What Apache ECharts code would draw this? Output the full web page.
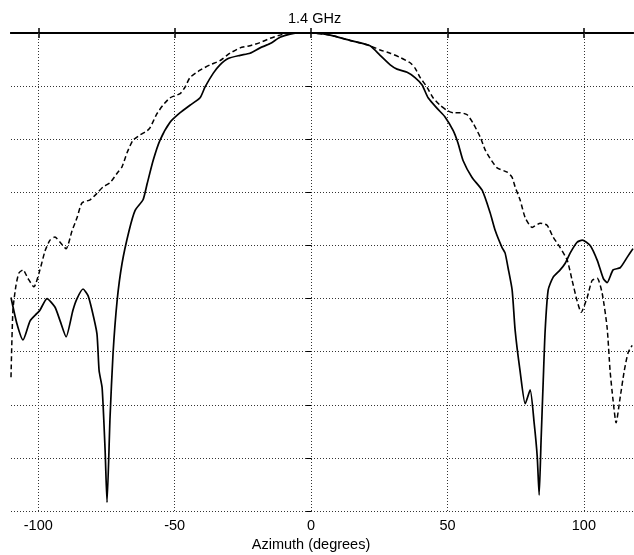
<!DOCTYPE html>
<html>
<head>
<meta charset="utf-8">
<script src="https://cdn.jsdelivr.net/npm/echarts@6/dist/echarts.min.js"></script>
<style>html,body{margin:0;padding:0;background:#fff;}#c{width:634px;height:555px;}</style>
</head>
<body>
<div id="c"></div>
<script>
const xTicks = [-100, -50, 0, 50, 100];
const titleText = '1.4 GHz';
const xName = 'Azimuth (degrees)';

// solid curve: [azimuth deg, dB]
const solid = [
[-110,-24.9],[-107.8,-27.4],[-105.6,-28.9],[-103.0,-27.1],[-100.5,-26.4],[-99.4,-26.1],
[-96.8,-25.0],[-93.9,-25.8],[-92.0,-27.1],[-89.8,-28.6],[-87.3,-26.1],[-85.8,-25.0],
[-83.6,-24.1],[-81.8,-24.7],[-80.3,-26.1],[-78.5,-28.3],[-77.7,-31.8],[-76.6,-33.4],
[-75.5,-39.3],[-74.8,-44.2],[-73.7,-36.2],[-72.6,-30.2],[-71.1,-25.2],[-69.3,-21.7],
[-66.7,-18.6],[-64.5,-16.7],[-61.6,-15.7],[-60.1,-14.2],[-57.9,-12.0],[-55.4,-10.1],
[-51.7,-8.4],[-48.0,-7.5],[-44.4,-6.8],[-40.7,-6.1],[-38.9,-5.1],[-35.9,-3.8],
[-33.4,-3.0],[-30.4,-2.4],[-26.0,-2.1],[-22.4,-1.9],[-18.7,-1.4],[-15.0,-1.0],
[-11.4,-0.4],[-7.7,-0.1],[-4.0,0],[0,0],[7.0,-0.2],[14.3,-0.7],[21.6,-1.2],
[25.3,-2.1],[29.0,-3.0],[31.5,-3.4],[35.2,-3.7],[38.1,-4.2],[40.7,-4.9],[42.9,-6.1],
[46.2,-7.1],[49.1,-7.9],[52.1,-9.2],[53.9,-10.4],[55.7,-12.0],[59.0,-13.6],
[62.7,-14.8],[65.6,-16.9],[67.5,-18.6],[70.0,-20.2],[71.1,-20.7],[72.2,-22.1],
[73.7,-24.2],[74.8,-28.0],[76.6,-31.8],[78.5,-34.9],[80.3,-33.6],[81.8,-36.8],
[82.9,-39.9],[83.6,-43.5],[84.3,-38.4],[85.1,-32.7],[85.8,-28.0],[86.9,-24.2],
[88.7,-23.0],[91.3,-22.3],[93.1,-21.7],[95.0,-20.7],[97.5,-19.7],[99.4,-19.5],
[102.3,-20.0],[104.9,-21.4],[107.1,-23.1],[108.5,-23.5],[110.7,-22.3],[113.3,-22.1],
[115.9,-21.1],[118,-20.3]
];

// dashed curve: [azimuth deg, dB]
const dashed = [
[-110,-32.4],[-109.3,-26.1],[-108.2,-23.8],[-107.1,-22.6],[-105.6,-22.3],[-103.8,-23.1],
[-101.6,-23.9],[-99.4,-22.3],[-97.5,-20.5],[-95.7,-19.5],[-93.9,-19.2],[-92.0,-19.7],
[-89.8,-20.3],[-87.6,-18.6],[-85.8,-17.4],[-84.0,-16.0],[-81.0,-15.7],[-78.5,-15.1],
[-76.3,-14.5],[-73.7,-14.1],[-71.1,-13.2],[-69.3,-12.6],[-67.5,-11.3],[-65.3,-10.1],
[-62.7,-9.6],[-60.1,-9.2],[-59.0,-8.9],[-56.5,-7.6],[-54.3,-6.8],[-51.7,-6.1],
[-48.0,-5.7],[-46.2,-5.1],[-44.4,-4.2],[-40.7,-3.5],[-37.0,-3.0],[-33.4,-2.6],
[-29.7,-1.9],[-26.0,-1.4],[-22.4,-1.2],[-18.7,-0.9],[-15.0,-0.5],[-11.4,-0.2],
[-7.7,0],[0,0],[7.0,-0.2],[14.3,-0.7],[21.6,-1.2],[25.3,-1.6],[29.0,-1.9],
[32.6,-2.3],[36.3,-2.8],[38.1,-3.3],[40.0,-4.2],[42.5,-5.1],[44.7,-6.1],[47.3,-6.8],
[49.9,-7.3],[52.1,-7.5],[54.6,-7.5],[57.2,-7.7],[59.4,-8.5],[62.0,-9.8],[63.8,-11.0],
[65.6,-11.8],[68.2,-12.7],[71.9,-13.1],[73.7,-13.6],[74.8,-14.5],[76.6,-15.7],
[78.5,-17.4],[81.0,-18.3],[84.0,-17.9],[86.5,-18.1],[88.7,-19.2],[91.3,-20.2],
[93.9,-21.4],[95.7,-23.3],[97.5,-25.2],[99.0,-26.3],[101.2,-24.9],[103.0,-23.3],
[104.9,-23.1],[106.7,-24.5],[108.5,-27.7],[109.6,-31.8],[110.7,-34.6],[111.8,-36.7],
[113.3,-34.3],[114.8,-31.8],[116.2,-30.1],[117.7,-29.4]
];

const font = 'Liberation Sans, Arial, sans-serif';
const chart = echarts.init(document.getElementById('c'));
const gridLine = {color: '#333', width: 1, type: [1, 2]};
chart.setOption({
  animation: false,
  backgroundColor: '#fff',
  title: {
    text: titleText, left: 283, top: 6,
    textStyle: {fontSize: 14.5, fontWeight: 'normal', color: '#000', fontFamily: font}
  },
  grid: {left: 11, right: 1, top: 33, bottom: 44, containLabel: false, outerBoundsMode: 'none'},
  xAxis: [{
    type: 'value', min: -110, max: 118, position: 'bottom',
    name: xName, nameLocation: 'middle', nameGap: 23,
    nameTextStyle: {fontSize: 14.5, color: '#000', fontFamily: font, padding: [0, 22, 0, 0]},
    axisLine: {show: true, lineStyle: {color: '#000', width: 2}},
    axisTick: {show: true, inside: true, length: 5, customValues: xTicks, lineStyle: {color: '#000', width: 1.5}},
    axisLabel: {show: true, customValues: xTicks, fontSize: 14.5, color: '#000', fontFamily: font, margin: 7},
    splitLine: {show: false}
  }, {
    type: 'value', min: -110, max: 118, position: 'top',
    axisLine: {show: true, lineStyle: {color: '#000', width: 2}},
    axisTick: {show: true, inside: true, length: 5, customValues: xTicks, lineStyle: {color: '#000', width: 1.5}},
    axisLabel: {show: false},
    splitLine: {show: false}
  }],
  yAxis: [{
    type: 'value', min: -45, max: 0, interval: 5, position: 'left',
    axisLine: {show: false}, axisTick: {show: false}, axisLabel: {show: false},
    splitLine: {show: true, lineStyle: gridLine}
  }, {
    type: 'value', min: -45, max: 0, interval: 5, position: 'right',
    axisLine: {show: false},
    axisTick: {show: true, inside: true, length: 5, lineStyle: {color: '#000', width: 1}},
    axisLabel: {show: false}, splitLine: {show: false}
  }],
  series: [{
    type: 'line', data: solid, xAxisIndex: 0, yAxisIndex: 0,
    symbol: 'none', smooth: 0.2,
    lineStyle: {color: '#000', width: 1.7},
    z: 5,
    markLine: {
      silent: true, symbol: 'none', label: {show: false},
      lineStyle: gridLine,
      data: xTicks.map(v => ({xAxis: v}))
    }
  }, {
    type: 'line', data: dashed, xAxisIndex: 0, yAxisIndex: 0,
    symbol: 'none', smooth: 0.2,
    lineStyle: {color: '#000', width: 1.5, type: [5, 3]},
    z: 4
  }]
});
</script>
</body>
</html>
